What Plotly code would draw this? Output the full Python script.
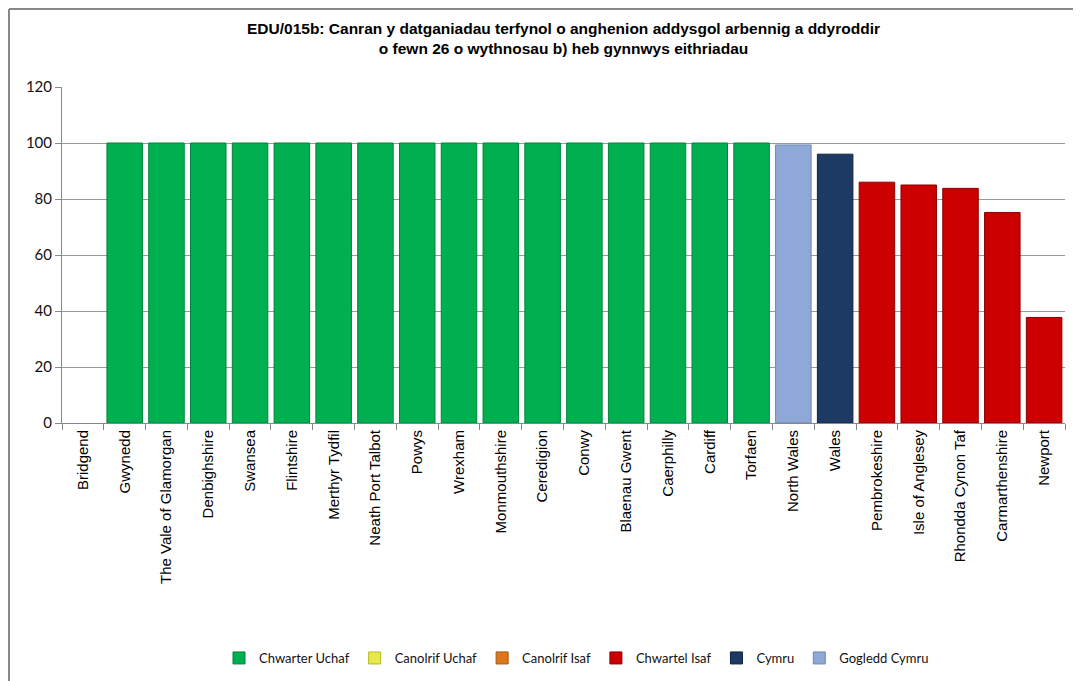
import plotly.graph_objects as go

categories = ["Bridgend", "Gwynedd", "The Vale of Glamorgan", "Denbighshire", "Swansea",
              "Flintshire", "Merthyr Tydfil", "Neath Port Talbot", "Powys", "Wrexham",
              "Monmouthshire", "Ceredigion", "Conwy", "Blaenau Gwent", "Caerphilly",
              "Cardiff", "Torfaen", "North Wales", "Wales", "Pembrokeshire",
              "Isle of Anglesey", "Rhondda Cynon Taf", "Carmarthenshire", "Newport"]

upper_q = ["Gwynedd", "The Vale of Glamorgan", "Denbighshire", "Swansea", "Flintshire",
           "Merthyr Tydfil", "Neath Port Talbot", "Powys", "Wrexham", "Monmouthshire",
           "Ceredigion", "Conwy", "Blaenau Gwent", "Caerphilly", "Cardiff", "Torfaen"]
upper_q_vals = [100] * 16

lower_q = ["Pembrokeshire", "Isle of Anglesey", "Rhondda Cynon Taf", "Carmarthenshire", "Newport"]
lower_q_vals = [86.0, 85.0, 83.8, 75.2, 37.7]

wales = ["Wales"]
wales_vals = [96.0]

north_wales = ["North Wales"]
north_wales_vals = [99.3]

series = [
    ("Chwarter Uchaf", upper_q, upper_q_vals, "#00B050", "#00843C"),
    ("Canolrif Uchaf", [], [], "#E8E84A", "#B8B820"),
    ("Canolrif Isaf", [], [], "#E0761C", "#A85410"),
    ("Chwartel Isaf", lower_q, lower_q_vals, "#CC0000", "#8A0000"),
    ("Cymru", wales, wales_vals, "#1C3A63", "#0F2340"),
    ("Gogledd Cymru", north_wales, north_wales_vals, "#8EA9D8", "#6F87B0"),
]

fig = go.Figure()
for name, xs, ys, col, edge in series:
    fig.add_trace(go.Bar(
        x=xs if xs else [None], y=ys if ys else [None], name=name,
        marker=dict(color=col, line=dict(color=edge, width=1)),
    ))

# page body has an 8px margin, so the figure is drawn 8px in from the top-left
W, H = 1073, 673
fig.update_layout(
    width=W, height=H,
    paper_bgcolor="white", plot_bgcolor="white",
    barmode="overlay", bargap=0.15,
    margin=dict(l=54, r=16, t=79, b=258, autoexpand=False),
    title=dict(
        text="<b>EDU/015b: Canran y datganiadau terfynol o anghenion addysgol arbennig a ddyroddir<br>o fewn 26 o wythnosau b) heb gynnwys eithriadau</b>",
        x=0.5, xanchor="center", xref="paper", yref="container", y=1 - 26 / H, yanchor="top",
        font=dict(family="Liberation Sans, Arial", size=15.5, color="black"),
    ),
    font=dict(family="Lato, Carlito, sans-serif", size=15, color="#111"),
    legend=dict(
        orientation="h", x=0.5 + 13 / 1003, xanchor="center", xref="paper",
        yref="container", y=23 / H, yanchor="middle",
        font=dict(size=13), traceorder="normal", itemwidth=30,
    ),
    shapes=[
        dict(type="line", xref="paper", yref="paper", x0=-53 / 1003, x1=-53 / 1003,
             y0=-258 / 336, y1=1 + 78 / 336, line=dict(color="#888", width=2)),
        dict(type="line", xref="paper", yref="paper", x0=-53 / 1003, x1=1 + 16 / 1003,
             y0=1 + 78 / 336, y1=1 + 78 / 336, line=dict(color="#888", width=2)),
    ],
)

fig.update_xaxes(
    categoryorder="array", categoryarray=categories, range=[-0.5, len(categories) - 0.5],
    tickangle=-90, ticks="outside", tickson="boundaries", ticklen=6, tickcolor="#888",
    tickfont=dict(family="Liberation Sans, Arial", size=15, color="black"),
    showline=True, linecolor="#888", showgrid=False,
)
fig.update_yaxes(
    range=[0, 120], dtick=20, showgrid=True, gridcolor="#999", gridwidth=1,
    showline=True, linecolor="#888", ticks="outside", ticklen=6, tickcolor="#888",
    zeroline=False,
)

fig.write_html("out.html")
